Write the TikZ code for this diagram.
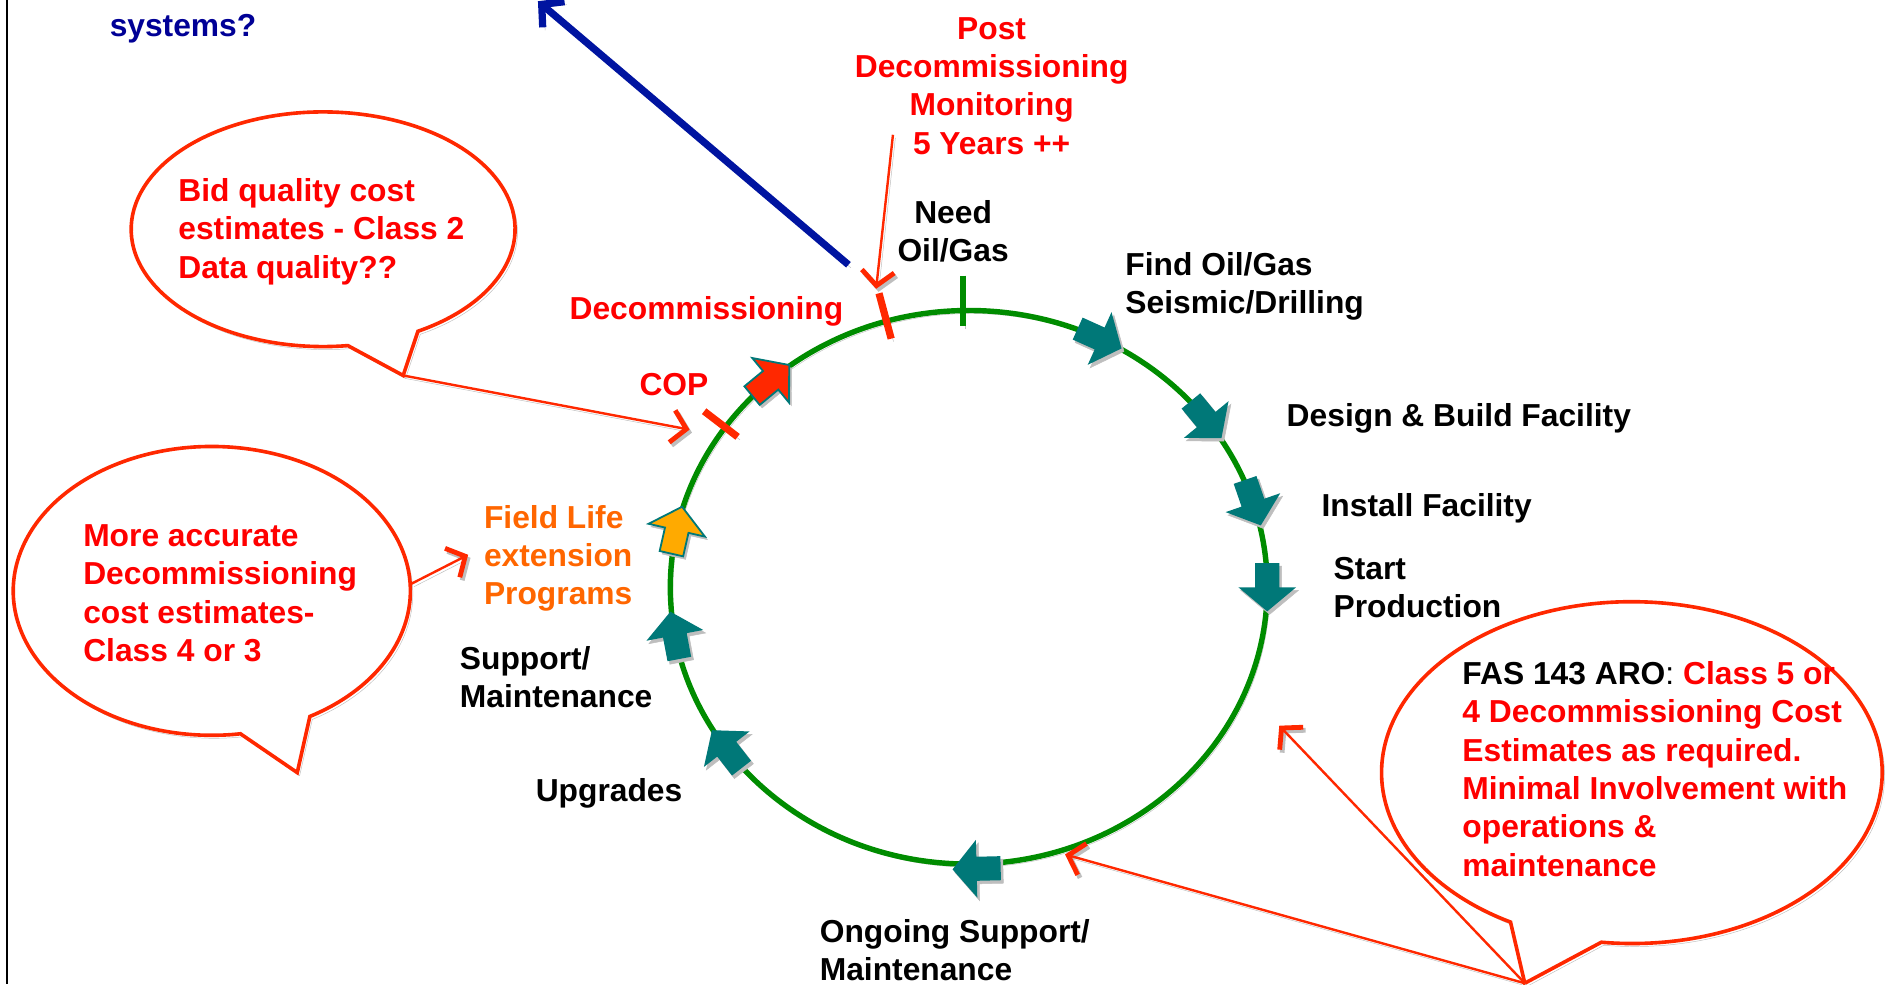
\documentclass[tikz,border=0pt]{standalone}
\usepackage{fontspec}
\setmainfont{Liberation Sans}
\usetikzlibrary{arrows.meta,calc}
\definecolor{teal0}{RGB}{0,120,120}
\definecolor{ring}{RGB}{0,140,0}
\definecolor{txtred}{RGB}{255,0,0}
\definecolor{bubred}{RGB}{255,40,0}
\definecolor{txtorange}{RGB}{255,102,0}
\definecolor{arrorange}{RGB}{255,170,0}
\definecolor{navy0}{RGB}{0,0,150}
\definecolor{navyline}{RGB}{0,20,160}
\definecolor{shd}{RGB}{190,190,190}
\begin{document}
\begin{tikzpicture}[x=1pt,y=-1pt,
  lbl/.style={font=\bfseries\fontsize{26.4}{31.8}\selectfont, inner sep=0pt, yshift=-2.5pt},
  lblL/.style={lbl, anchor=west, align=left},
  lblC/.style={lbl, align=center},
  shadowline/.style={preaction={draw=shd, transform canvas={shift={(2pt,-2.5pt)}}}},
  shadowfill/.style={preaction={fill=shd, draw=shd, transform canvas={shift={(2pt,-2.5pt)}}}},
  bubble/.style={draw=bubred, line width=3, fill=white, line join=miter, shadowline},
  callout/.style={draw=bubred, line width=2, shadowline, -{Straight Barb[length=12pt,width=27pt,line width=4pt]}},
  blk/.style={fill=teal0, shadowfill},
  blkor/.style={fill=arrorange, draw=teal0, line width=1.5, shadowfill},
  blkred/.style={fill=bubred, draw=teal0, line width=1.5, shadowfill},
  pics/blockarrow/.style={code={\path[#1] (-20,-10) -- (0,-10) -- (0,-24) -- (20,0) -- (0,24) -- (0,10) -- (-20,10) -- cycle;}},
]
\useasboundingbox (0,0) rectangle (1568,818);
\draw[line width=1.2] (6,0) -- (6,818);

% bubbles
\coordinate (b1c) at (268.5,190.5);
\coordinate (b1t) at (335,312);
\draw[bubble] ([shift={(60.4:159.5 and 97.5)}]b1c) arc[start angle=60.4, end angle=-277.4, x radius=159.5, y radius=97.5] -- (b1t) -- cycle;
\coordinate (b2c) at (176,491);
\coordinate (b2t) at (247,642);
\draw[bubble] ([shift={(60.4:165 and 120)}]b2c) arc[start angle=60.4, end angle=-278.3, x radius=165, y radius=120] -- (b2t) -- cycle;
\coordinate (b3c) at (1356,642);
\coordinate (b3t) at (1267,817);
\draw[bubble] ([shift={(97:208 and 142)}]b3c) arc[start angle=97, end angle=-241, x radius=208, y radius=142] -- (b3t) -- cycle;

% ring
\coordinate (C) at (805,488);
\draw[ring, line width=4.5, shadowline] (C) ellipse[x radius=248, y radius=230];

% ticks
\draw[ring, line width=5, shadowline] (799.8,229) -- (799.8,271);
\draw[bubred, line width=6, shadowline] (730.4,243.7) -- (740.5,281.4);
\draw[bubred, line width=6, shadowline] (585.1,341.7) -- (612.9,363);

% block arrows
\pic[rotate=-24.3] at ($(C)+(-64:248 and 230)$) {blockarrow=blk};
\pic[rotate=-50.6] at ($(C)+(-37.3:248 and 230)$) {blockarrow=blk};
\pic[rotate=-70.9] at ($(C)+(-17.8:248 and 230)$) {blockarrow=blk};
\pic[rotate=-90] at ($(C)+(0:248 and 230)$) {blockarrow=blk};
\pic[rotate=181.4] at ($(C)+(88.5:248 and 230)+(0,4)$) {blockarrow=blk};
\pic[rotate=127.9] at ($(C)+(144.2:248 and 230)$) {blockarrow=blk};
\pic[rotate=100.7] at ($(C)+(170:248 and 230)$) {blockarrow=blk};
\pic[rotate=77.2] at ($(C)+(191.9:248 and 230)$) {blockarrow=blkor};
\pic[rotate=39.5] at ($(C)+(228.4:248 and 230)$) {blockarrow=blkred};

% texts
\node[lblL, text=navy0] (sys) at (91,21) {systems?};
\node[lblC, text=txtred] (post) at (824,69) {Post\\Decommissioning\\Monitoring\\5 Years ++};
\node[lblC] (need) at (792,189.5) {Need\\Oil/Gas};
\node[lblC, text=txtred] (decom) at (587,256) {Decommissioning};
\node[lblC, text=txtred] (cop) at (560,317) {COP};
\node[lblL, text=txtred] (bid) at (148,190) {Bid quality cost\\estimates - Class 2\\Data quality??};
\node[lblL, text=txtred] (more) at (69,490.5) {More accurate\\Decommissioning\\cost estimates-\\Class 4 or 3};
\node[lblL, text=txtorange] (field) at (402,461.5) {Field Life\\extension\\Programs};
\node[lblL] (support) at (382,560) {Support/\\Maintenance};
\node[lblL] (upg) at (445,657) {Upgrades};
\node[lblL] (ongoing) at (681,787) {Ongoing Support/\\Maintenance};
\node[lblL] (find) at (935,235.5) {Find Oil/Gas\\Seismic/Drilling};
\node[lblL] (design) at (1069,345) {Design \& Build Facility};
\node[lblL] (install) at (1098,420) {Install Facility};
\node[lblL] (start) at (1108,485.5) {Start\\Production};
\node[lblL, text=txtred] (fas) at (1215,636.5) {{\color{black}FAS 143 ARO\mdseries:} Class 5 or\\4 Decommissioning Cost\\Estimates as required.\\Minimal Involvement with\\operations \&\\maintenance};

% connectors
\coordinate (copmark) at (573,357);
\coordinate (b2s) at (342,485);
\coordinate (fieldtip) at (389,461);
\coordinate (ringpt1) at (1063,603);
\coordinate (ringpt2) at (885,710);
\coordinate (postfrom) at (742,112);
\coordinate (posttip) at (728,240);
\coordinate (bluefrom) at (705,220);
\coordinate (bluetip) at (447,1);
\draw[callout] (b1t) -- (copmark);
\draw[callout] (b2s) -- (fieldtip);
\draw[callout] (b3t) -- (ringpt1);
\draw[callout] (b3t) -- (ringpt2);
\draw[callout] (postfrom) -- (posttip);
\draw[navyline, line width=6, shadowline, -{Straight Barb[length=13pt,width=28pt]}] (bluefrom) -- (bluetip);
\end{tikzpicture}
\end{document}
